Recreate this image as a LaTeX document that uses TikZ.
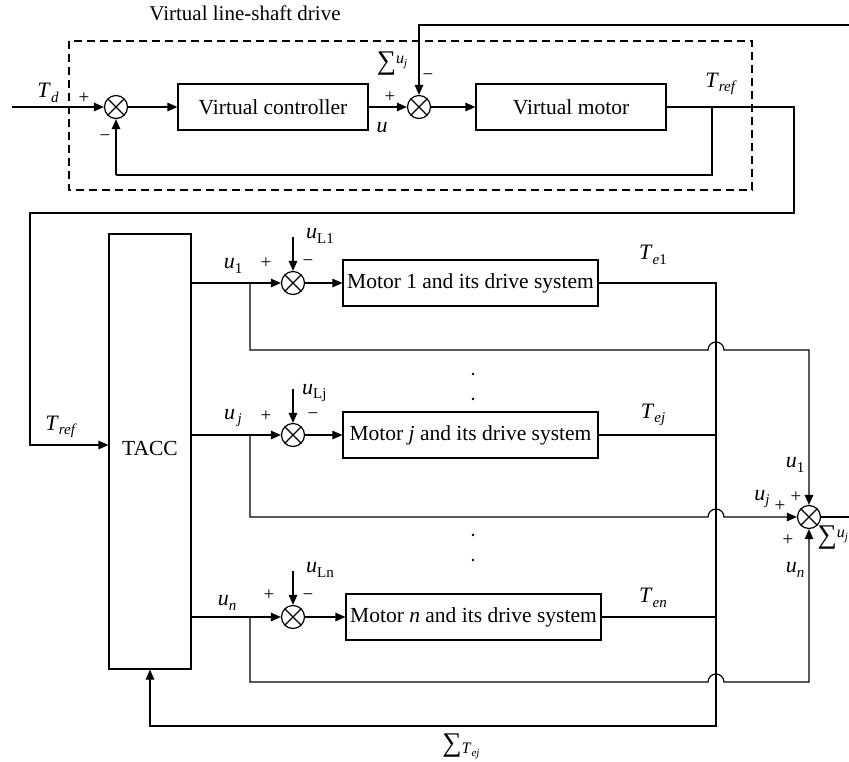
\documentclass[tikz,border=0pt]{standalone}
\usepackage{fontspec}
\setmainfont{Liberation Serif}
\usetikzlibrary{arrows.meta}
\newcommand\lblv[2]{\textit{#1}\raisebox{-0.45ex}{\fontsize{15}{15}\selectfont #2}}
\newcommand\lblsum[2]{{\fontsize{27}{27}\selectfont ∑}\raisebox{0.6ex}{\fontsize{16}{16}\selectfont\textit{#1}\raisebox{-0.4ex}{\fontsize{11}{11}\selectfont\textit{#2}}}}
\newcommand\lblsumlow[2]{{\fontsize{27}{27}\selectfont ∑}\raisebox{-0.2ex}{\fontsize{16}{16}\selectfont\textit{#1}\raisebox{-0.4ex}{\fontsize{11}{11}\selectfont\textit{#2}}}}
\tikzset{
 blk/.style={draw, line width=1.2pt, minimum height=46pt, inner sep=0pt, font=\fontsize{21.5}{25}\selectfont},
 sumn/.style={circle, draw, line width=1.2pt, minimum size=23pt, inner sep=0pt,
   path picture={\draw[line width=1.2pt] (path picture bounding box.north west)--(path picture bounding box.south east)
     (path picture bounding box.south west)--(path picture bounding box.north east);}},
 wire/.style={line width=1.2pt},
 arr/.style={wire, -{Triangle[length=10pt,width=8.5pt]}},
 lbl/.style={inner sep=0pt, font=\fontsize{22}{25}\selectfont},
 sgn/.style={inner sep=0pt, font=\fontsize{19}{21}\selectfont},
 dbox/.style={line width=1.3pt, dash pattern=on 8pt off 5pt},
}
\begin{document}
\begin{tikzpicture}[x=1pt,y=-1pt]
\useasboundingbox (0,0) rectangle (849,761);
% top part
\node[lbl, font=\fontsize{21}{25}\selectfont] (title) at (245,13) {Virtual line-shaft drive};
\draw[dbox] (69,41) rectangle (752,190);
\coordinate (tdin) at (12,107);
\node[sumn] (s1) at (116,107) {};
\node[blk, minimum width=190pt] (vc) at (273,107) {Virtual controller};
\node[sumn] (s2) at (419,107) {};
\node[blk, minimum width=190pt] (vm) at (571,107) {Virtual motor};
\coordinate (topin) at (849,25);
\coordinate (fb) at (712,107);
\coordinate (tin) at (30,445);
% TACC
\node[blk, minimum width=82pt, minimum height=435pt] (tacc) at (150,451.5) {\raisebox{6pt}{TACC}};
% rows
\node[sumn] (a1) at (293,283) {};
\node[blk, minimum width=255pt] (m1) at (470.5,283) {Motor 1 and its drive system};
\node[sumn] (aj) at (293,435) {};
\node[blk, minimum width=255pt] (mj) at (470.5,435) {Motor \textit{j} and its drive system};
\node[sumn] (an) at (293,617) {};
\node[blk, minimum width=255pt] (mn) at (473.5,617) {Motor \textit{n} and its drive system};
\coordinate (d1) at (293,237);
\coordinate (dj) at (293,389);
\coordinate (dn) at (293,571);
\coordinate (b1) at (250,283);
\coordinate (bj) at (250,435);
\coordinate (bn) at (250,617);
\coordinate (bot) at (716,726);
\node[sumn] (sr) at (809,517) {};
\coordinate (out) at (849,517);
% connectors top
\draw[arr] (tdin) -- (s1);
\draw[arr] (s1) -- (vc);
\draw[arr] (vc) -- (s2);
\draw[arr] (s2) -- (vm);
\draw[arr] (topin) -| (s2);
\draw[wire] (fb) -- (712,175) -- (116,175);
\draw[arr] (116,175) -- (s1);
\draw[arr] (vm.east) -- (794,107) -- (794,213) -- (30,213) -- (tin) -- (tacc.west |- tin);
% rows
\draw[arr] (tacc.east |- a1) -- (a1);
\draw[arr] (tacc.east |- aj) -- (aj);
\draw[arr] (tacc.east |- an) -- (an);
\draw[arr] (d1) -- (a1);
\draw[arr] (dj) -- (aj);
\draw[arr] (dn) -- (an);
\draw[arr] (a1) -- (m1);
\draw[arr] (aj) -- (mj);
\draw[arr] (an) -- (mn);
\draw[arr] (m1.east) -- (716,283) -- (bot) -| (tacc.south);
\draw[wire] (mj.east) -- (716,435);
\draw[wire] (mn.east) -- (716,617);
\draw[arr] (b1) -- (250,350) -- (708,350) arc[start angle=180,end angle=360,radius=8] -- (809,350) -- (sr);
\draw[arr] (bj) -- (250,517) -- (708,517) arc[start angle=180,end angle=360,radius=8] -- (sr);
\draw[arr] (bn) -- (250,682) -- (708,682) arc[start angle=180,end angle=360,radius=8] -- (809,682) -- (sr);
\draw[wire] (sr) -- (out);
% dots
\foreach \yy in {374,399,535,560} \fill (473,\yy) circle (1.4);
% labels
\node[lbl] at (48,93) {\lblv{T}{\textit{d}}};
\node[sgn] at (84,98) {+};
\node[sgn] at (105,138) {−};
\node[lbl] at (382,128) {\textit{u}};
\node[sgn] at (390,97) {+};
\node[lbl] at (392,64) {\lblsum{u}{j}};
\node[sgn] at (428,77) {−};
\node[lbl] at (721,84) {\lblv{T}{\textit{ref}}};
\node[lbl] at (61,427) {\lblv{T}{\textit{ref}}};
\node[lbl] at (233,266) {\lblv{u}{1}};
\node[sgn] at (266,263) {+};
\node[sgn] at (308,263) {−};
\node[lbl, anchor=west] at (306,236) {\lblv{u}{L1}};
\node[lbl] at (653,255) {\lblv{T}{\textit{e}1}};
\node[lbl] at (233,418) {\lblv{u}{\,\textit{j}}};
\node[sgn] at (266,416) {+};
\node[sgn] at (313,416) {−};
\node[lbl, anchor=west] at (302,393) {\lblv{u}{Lj}};
\node[lbl] at (653,415) {\lblv{T}{\textit{ej}}};
\node[lbl] at (227,603) {\lblv{u}{\textit{n}}};
\node[sgn] at (269,595) {+};
\node[sgn] at (308,597) {−};
\node[lbl, anchor=west] at (306,570) {\lblv{u}{Ln}};
\node[lbl] at (653,598) {\lblv{T}{\textit{en}}};
\node[lbl] at (795,465) {\lblv{u}{1}};
\node[lbl] at (762,499) {\lblv{u}{\textit{j}}};
\node[sgn] at (780,506) {+};
\node[sgn] at (796,497) {+};
\node[sgn] at (788,540) {+};
\node[lbl] at (795,570) {\lblv{u}{\textit{n}}};
\node[lbl, anchor=east] at (848,538) {\lblsum{u}{j}};
\node[lbl] at (461,746) {\lblsumlow{T}{ej}};
\end{tikzpicture}
\end{document}
